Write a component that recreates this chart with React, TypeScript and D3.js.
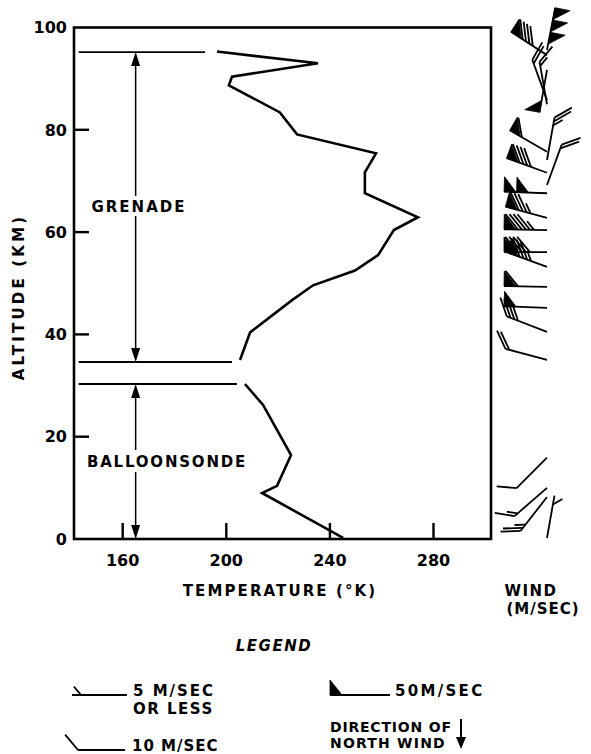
import React from "react";
import * as d3 from "d3";

// Temperature profile (grenade, 35-95 km)
const grenadeAlt = [95.3, 93.0, 90.4, 88.7, 83.4, 79.1, 75.4, 71.7, 67.6, 62.9, 60.4, 55.5, 52.5, 49.6, 46.7, 40.4, 35.0];
const grenadeTemp = [196.4, 235.4, 202.2, 201.0, 220.7, 227.3, 257.8, 253.5, 253.5, 274.0, 264.7, 258.6, 249.7, 233.5, 225.4, 209.2, 205.3];
// Temperature profile (balloonsonde, 0-30 km)
const balloonAlt = [30.3, 26.2, 16.4, 10.4, 9.0, 0.2];
const balloonTemp = [207.2, 214.2, 225.0, 219.6, 213.8, 245.1];

// Range markers (altitude, temperature extent of horizontal line)
const rangeAlt = [95.2, 34.6, 30.3];
const rangeEndTemp = [191.8, 202.2, 204.1];
const rangeStartTemp = 143;
const arrowTemp = 165;

// Winds
const windAlt = [95.6, 94.6, 85.8, 85.0, 91.7, 74.1, 69.2, 71.6, 75.7, 67.6, 62.8, 60.4, 56.1, 53.2, 49.3, 45.2, 40.5, 35.0, 15.9, 10.0, 8.2, 0.2];
const windDir = [11, 303, 340, 350, 190, 10, 20, 290, 300, 272, 285, 271, 270, 290, 271, 272, 291, 285, 225, 229, 218, 10];
const windSpeed = [150, 90, 20, 15, 50, 25, 20, 90, 60, 100, 85, 95, 90, 85, 60, 50, 40, 20, 10, 15, 25, 5];

const xTicks = [160, 200, 240, 280];
const yTicks = [0, 20, 40, 60, 80, 100];

const W = 591, H = 754;
const FONT = "'DejaVu Sans', Verdana, sans-serif";

function Barb({ sx, sy, dir, speed, L = 43 }: any) {
  const r = (dir * Math.PI) / 180;
  const u = [Math.sin(r), -Math.cos(r)];
  const n = [-u[1], u[0]];
  const F = [sx + L * u[0], sy + L * u[1]];
  const els: any[] = [];
  els.push(<line key="s" x1={sx} y1={sy} x2={F[0]} y2={F[1]} stroke="#000" strokeWidth={1.8} />);
  const pw = 12, ph = 15, sp = 4, fl = 20, hl = 11;
  const a = (40 * Math.PI) / 180;
  const bd = [n[0] * Math.cos(a) + u[0] * Math.sin(a), n[1] * Math.cos(a) + u[1] * Math.sin(a)];
  const p = Math.floor(speed / 50);
  const rem = speed - 50 * p;
  const full = Math.floor(rem / 10);
  const half = rem - 10 * full >= 5;
  let off = 0;
  for (let i = 0; i < p; i++) {
    const p0 = [F[0] - off * u[0], F[1] - off * u[1]];
    const p1 = [p0[0] + ph * n[0], p0[1] + ph * n[1]];
    const p2 = [F[0] - (off + pw) * u[0], F[1] - (off + pw) * u[1]];
    els.push(<path key={"p" + i} d={`M${p0}L${p1}L${p2}Z`} fill="#000" stroke="#000" strokeWidth={0.8} />);
    off += pw + 0.5;
  }
  if (p > 0) off += 1.5;
  for (let i = 0; i < full; i++) {
    const q = [F[0] - off * u[0], F[1] - off * u[1]];
    els.push(<line key={"f" + i} x1={q[0]} y1={q[1]} x2={q[0] + fl * bd[0]} y2={q[1] + fl * bd[1]} stroke="#000" strokeWidth={1.8} />);
    off += sp;
  }
  if (half) {
    if (off === 0) off = 9;
    const q = [F[0] - off * u[0], F[1] - off * u[1]];
    els.push(<line key="h" x1={q[0]} y1={q[1]} x2={q[0] + hl * bd[0]} y2={q[1] + hl * bd[1]} stroke="#000" strokeWidth={1.8} />);
  }
  return <g>{els}</g>;
}

export default function App() {
  const x = d3.scaleLinear().domain([141.2, 302.2]).range([74, 491]);
  const y = d3.scaleLinear().domain([0, 100]).range([539, 27.5]);
  const mk = (alts: number[], temps: number[]) =>
    d3.line<number>().x((_, i) => x(temps[i])).y((_, i) => y(alts[i]))(alts) as string;

  const colX = 547;
  const ax = x(arrowTemp);
  const tri = (tx: number, ty: number, dirY: number) =>
    `M${tx},${ty}L${tx - 4.5},${ty - dirY * 14}L${tx + 4.5},${ty - dirY * 14}Z`;

  const ts: any = { fontFamily: FONT, fontWeight: "bold" };

  return (
    <svg width={W} height={H} style={{ position: "absolute", left: 0, top: 0, background: "#fff" }}>
      <rect width={W} height={H} fill="#fff" />
      {/* frame */}
      <rect x={x(141.2)} y={y(100)} width={x(302.2) - x(141.2)} height={y(0) - y(100)} fill="none" stroke="#000" strokeWidth={2.6} />
      {/* ticks */}
      {xTicks.map((t) => (
        <g key={"xt" + t}>
          <line x1={x(t)} x2={x(t)} y1={y(0)} y2={y(0) - 16} stroke="#000" strokeWidth={2.4} />
          <text x={x(t)} y={566} textAnchor="middle" fontSize={16} style={ts}>{t}</text>
        </g>
      ))}
      {yTicks.map((t) => (
        <g key={"yt" + t}>
          {t > 0 && t < 100 && <line x1={x(141.2)} x2={x(141.2) + 15} y1={y(t)} y2={y(t)} stroke="#000" strokeWidth={2.4} />}
          <text x={67} y={y(t)} dy="0.36em" textAnchor="end" fontSize={16} style={ts}>{t}</text>
        </g>
      ))}
      {/* range lines */}
      {rangeAlt.map((a, i) => (
        <line key={"r" + i} x1={x(rangeStartTemp)} x2={x(rangeEndTemp[i])} y1={y(a)} y2={y(a)} stroke="#000" strokeWidth={1.8} />
      ))}
      {/* grenade arrow */}
      <line x1={ax} x2={ax} y1={y(rangeAlt[0]) + 10} y2={y(rangeAlt[1]) - 10} stroke="#000" strokeWidth={1.5} />
      <path d={tri(ax, y(rangeAlt[0]), -1)} fill="#000" />
      <path d={tri(ax, y(rangeAlt[1]), 1)} fill="#000" />
      <rect x={90} y={196} width={98} height={20} fill="#fff" />
      <text x={139} y={212} textAnchor="middle" fontSize={15} letterSpacing={2} style={ts}>GRENADE</text>
      {/* balloonsonde arrow */}
      <line x1={ax} x2={ax} y1={y(rangeAlt[2]) + 10} y2={y(0) - 10} stroke="#000" strokeWidth={1.5} />
      <path d={tri(ax, y(rangeAlt[2]), -1)} fill="#000" />
      <path d={tri(ax, y(0), 1)} fill="#000" />
      <rect x={84} y={450} width={166} height={22} fill="#fff" />
      <text x={167} y={467} textAnchor="middle" fontSize={15} letterSpacing={1.8} style={ts}>BALLOONSONDE</text>
      {/* profiles */}
      <path d={mk(grenadeAlt, grenadeTemp)} fill="none" stroke="#000" strokeWidth={2.6} />
      <path d={mk(balloonAlt, balloonTemp)} fill="none" stroke="#000" strokeWidth={2.6} />
      {/* winds */}
      {windAlt.map((a, i) => (
        <Barb key={"w" + i} sx={colX} sy={y(a)} dir={windDir[i]} speed={windSpeed[i]} />
      ))}
      {/* axis titles */}
      <text transform="translate(24,297) rotate(-90)" textAnchor="middle" fontSize={15} letterSpacing={3.2} style={ts}>ALTITUDE (KM)</text>
      <text x={280} y={596} textAnchor="middle" fontSize={15} letterSpacing={2.1} style={ts}>TEMPERATURE (°K)</text>
      <text x={531} y={596} textAnchor="middle" fontSize={15} letterSpacing={1.5} style={ts}>WIND</text>
      <text x={543} y={614} textAnchor="middle" fontSize={15} letterSpacing={1} style={ts}>(M/SEC)</text>
      {/* legend */}
      <text x={274} y={651} textAnchor="middle" fontSize={15} letterSpacing={1.5} fontStyle="italic" style={ts}>LEGEND</text>
      <Barb sx={127} sy={695} dir={270} speed={5} L={55} />
      <text x={133} y={696} fontSize={15} letterSpacing={2} style={ts}>5 M/SEC</text>
      <text x={133} y={714} fontSize={15} letterSpacing={1.5} style={ts}>OR LESS</text>
      <Barb sx={125} sy={750} dir={270} speed={10} L={47} />
      <text x={132} y={751} fontSize={15} letterSpacing={1} style={ts}>10 M/SEC</text>
      <Barb sx={390} sy={695} dir={270} speed={50} L={60} />
      <text x={395} y={696} fontSize={15} letterSpacing={2.3} style={ts}>50M/SEC</text>
      <text x={330} y={732} fontSize={14} letterSpacing={0.8} style={ts}>DIRECTION OF</text>
      <text x={330} y={748} fontSize={14} letterSpacing={1.2} style={ts}>NORTH WIND</text>
      <line x1={461} x2={461} y1={719} y2={740} stroke="#000" strokeWidth={2} />
      <path d="M456,737L466,737L461,749Z" fill="#000" />
    </svg>
  );
}
